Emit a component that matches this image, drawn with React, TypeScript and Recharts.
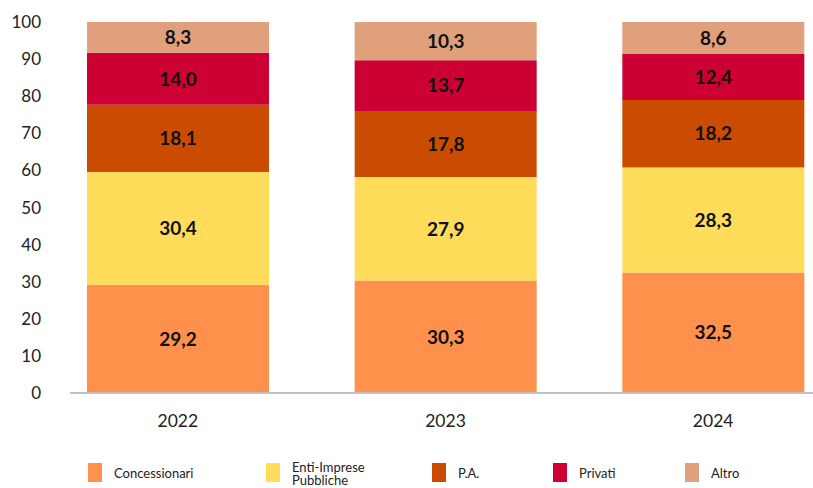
import { BarChart, Bar, XAxis, YAxis, LabelList } from 'recharts';

const years = ['2022', '2023', '2024'];
const concessionari = [29.2, 30.3, 32.5];
const entiImprese = [30.4, 27.9, 28.3];
const pa = [18.1, 17.8, 18.2];
const privati = [14.0, 13.7, 12.4];
const altro = [8.3, 10.3, 8.6];

const seriesNames = ['Concessionari', 'Enti-Imprese Pubbliche', 'P.A.', 'Privati', 'Altro'];
const yTicks = [0, 10, 20, 30, 40, 50, 60, 70, 80, 90, 100];

const colors = ['#FF914D', '#FFDD5B', '#C94C00', '#CC0033', '#E0A07B'];
const keys = ['concessionari', 'enti', 'pa', 'privati', 'altro'];

const data = years.map((year, i) => ({
  year,
  concessionari: concessionari[i],
  enti: entiImprese[i],
  pa: pa[i],
  privati: privati[i],
  altro: altro[i],
}));

const font = 'Lato, "Noto Sans", sans-serif';
const fmt = (v: any) => Number(v).toFixed(1).replace('.', ',');

const legendX = [88, 266, 432, 553, 685];

export default function App() {
  return (
    <div style={{ position: 'absolute', left: 0, top: 0, width: 813, height: 488, fontFamily: font }}>
      <BarChart
        width={813}
        height={488}
        data={data}
        margin={{ top: 22, right: 0, left: 0, bottom: 65 }}
        barSize={182}
      >
        <XAxis
          dataKey="year"
          height={30}
          tickLine={false}
          tickSize={0}
          tickMargin={22}
          axisLine={{ stroke: '#c0c0c0', strokeWidth: 2 }}
          padding={{ left: -26, right: -34 }}
          tick={{ fill: '#222', fontSize: 17.5, fontFamily: font }}
        />
        <YAxis
          width={70}
          domain={[0, 100]}
          ticks={yTicks}
          interval={0}
          axisLine={false}
          tickLine={false}
          tickSize={0}
          tickMargin={29}
          tick={{ fill: '#222', fontSize: 17, fontFamily: font }}
        />
        {keys.map((k, i) => (
          <Bar key={k} dataKey={k} name={seriesNames[i]} stackId="a" fill={colors[i]} isAnimationActive={false}>
            <LabelList
              dataKey={k}
              position="center"
              formatter={fmt}
              style={{ fill: '#111', fontSize: 19, fontWeight: 700, fontFamily: font }}
            />
          </Bar>
        ))}
      </BarChart>
      {seriesNames.map((name, i) => (
        <div key={name} style={{ position: 'absolute', left: legendX[i], top: 461, display: 'flex', alignItems: 'flex-start' }}>
          <div style={{ width: 14, height: 19, marginTop: 2, background: colors[i], flexShrink: 0 }} />
          <div style={{ marginLeft: 12, fontSize: 13, lineHeight: '13px', color: '#222', width: 84, paddingTop: i === 1 ? 0 : 6 }}>
            {name}
          </div>
        </div>
      ))}
    </div>
  );
}
